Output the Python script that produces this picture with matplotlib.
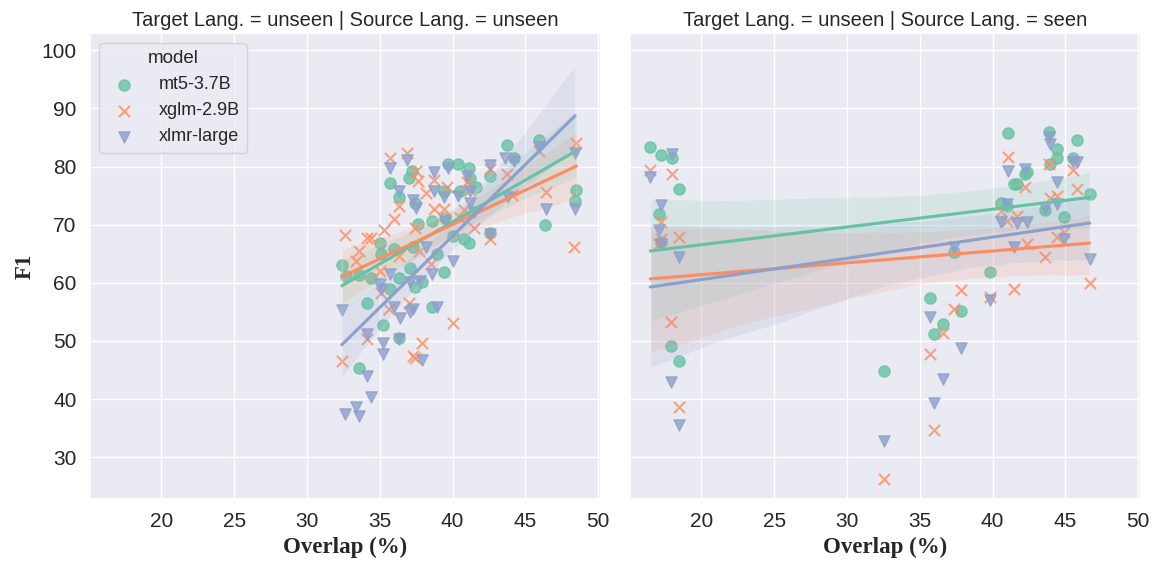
import matplotlib
matplotlib.use("Agg")
import matplotlib.pyplot as plt
import numpy as np
import pandas as pd
import seaborn as sns

models = ["mt5-3.7B", "xglm-2.9B", "xlmr-large"]

# Source Lang. = unseen panel
unseen_x_mt5 = [43.7, 45.9, 44.2, 39.7, 40.4, 41.1, 41.2, 41.6, 42.6, 37.2, 37.0, 35.7, 36.3,
                37.4, 39.4, 40.5, 48.5, 48.4, 46.35, 38.6, 37.6, 39.5, 40.0, 40.8, 41.1, 42.6,
                35.0, 35.1, 36.0, 37.3, 38.9, 34.4, 32.4, 32.7, 36.3, 37.1, 37.9, 37.4, 39.4,
                35.7, 34.1, 35.2, 36.3, 38.6, 33.6, 33.6]
unseen_f1_mt5 = [83.7, 84.6, 81.5, 80.5, 80.5, 79.8, 78.1, 76.4, 78.4, 79.3, 78.0, 77.2, 74.7,
                 73.8, 75.8, 75.8, 76.0, 74.0, 70.0, 70.7, 70.1, 71.2, 68.1, 67.5, 66.8, 68.5,
                 66.9, 64.9, 65.8, 66.1, 64.9, 60.9, 63.0, 61.2, 60.9, 62.6, 60.1, 59.2, 61.9,
                 58.9, 56.6, 52.8, 50.5, 55.8, 45.4, 61.3]

unseen_x_xglm = [32.6, 35.7, 36.9, 37.5, 37.6, 38.7, 38.2, 39.6, 41.0, 36.3, 36.0, 35.3, 37.4,
                 38.7, 39.4, 40.5, 34.1, 34.4, 33.6, 33.4, 32.4, 35.1, 35.6, 37.0, 34.1, 37.9,
                 37.3, 37.4, 40.0, 41.5, 42.6, 43.7, 44.1, 42.6, 45.9, 46.4, 48.5, 48.3, 37.7,
                 36.3, 35.0, 38.5, 40.8, 41.2]
unseen_f1_xglm = [68.2, 81.5, 82.3, 79.3, 77.5, 77.7, 75.5, 76.4, 77.3, 73.2, 70.9, 69.1, 69.5,
                  72.7, 72.7, 71.2, 67.7, 67.7, 65.4, 63.8, 46.6, 58.3, 55.5, 56.6, 50.3, 49.7,
                  47.4, 47.1, 53.0, 69.5, 67.5, 78.7, 75.1, 79.5, 82.6, 75.7, 84.0, 66.2, 65.5,
                  64.6, 62.0, 63.2, 72.5, 76.0]

unseen_x_xlmr = [35.7, 36.9, 38.7, 39.7, 36.3, 37.3, 37.5, 38.7, 39.4, 40.4, 41.0, 41.2, 41.2,
                 42.6, 43.6, 44.2, 48.4, 46.4, 48.4, 45.9, 43.8, 41.5, 39.5, 38.2, 35.7, 35.0,
                 35.1, 37.1, 37.75, 38.6, 40.0, 32.4, 36.0, 36.4, 37.3, 37.1, 38.9, 34.1, 35.2,
                 35.2, 36.3, 37.9, 34.1, 34.4, 33.4, 32.6, 33.6, 42.6]
unseen_f1_xlmr = [79.8, 81.1, 79.1, 79.8, 75.8, 74.2, 72.8, 75.8, 74.7, 75.0, 78.4, 75.8, 73.8,
                  80.3, 81.5, 81.0, 82.4, 72.7, 72.7, 83.3, 74.7, 72.1, 70.7, 66.1, 61.5, 59.8,
                  58.9, 60.1, 60.3, 61.5, 63.7, 55.3, 55.8, 54.0, 55.5, 54.9, 55.8, 51.2, 49.7,
                  47.7, 50.3, 46.7, 44.0, 40.3, 38.6, 37.4, 37.1, 68.4]

# Source Lang. = seen panel (same language pairs for all models)
seen_x = [16.5, 17.2, 18.0, 18.5, 17.1, 17.2, 17.9, 18.5,
          32.54, 35.72, 35.95, 36.59, 37.32, 37.85, 39.79, 40.6, 41.0, 41.05, 41.44, 41.7,
          42.2, 42.36, 43.6, 43.9, 43.96, 44.4, 44.45, 44.9, 45.5, 45.8, 46.66]
seen_f1_mt5 = [83.4, 82.0, 81.4, 76.2, 71.9, 67.0, 49.1, 46.6,
               44.9, 57.3, 51.1, 52.9, 65.3, 55.1, 61.8, 73.8, 73.2, 85.7, 77.0, 77.0,
               78.7, 79.0, 72.5, 86.0, 80.4, 83.1, 81.5, 71.3, 81.5, 84.5, 75.3]
seen_f1_xglm = [79.4, 70.4, 78.7, 67.8, 66.7, 67.5, 53.3, 38.6,
                26.3, 47.8, 34.6, 51.3, 55.5, 58.8, 57.5, 72.4, 70.7, 81.7, 59.0, 71.5,
                76.4, 66.7, 64.5, 80.4, 74.5, 75.0, 67.8, 68.8, 79.4, 76.1, 59.9]
seen_f1_xlmr = [78.2, 73.4, 82.1, 64.4, 69.0, 66.6, 43.0, 35.5,
                32.7, 54.1, 39.4, 43.4, 66.1, 48.7, 57.1, 70.4, 73.5, 79.3, 66.2, 70.2,
                79.5, 70.5, 72.8, 85.0, 83.8, 77.3, 73.5, 67.5, 80.7, 80.7, 64.1]


def make_frame(xs, ys, model, source):
    return pd.DataFrame({"Overlap": xs, "F1": ys, "model": model,
                         "Target Lang.": "unseen", "Source Lang.": source})


df = pd.concat([
    make_frame(unseen_x_mt5, unseen_f1_mt5, models[0], "unseen"),
    make_frame(unseen_x_xglm, unseen_f1_xglm, models[1], "unseen"),
    make_frame(unseen_x_xlmr, unseen_f1_xlmr, models[2], "unseen"),
    make_frame(seen_x, seen_f1_mt5, models[0], "seen"),
    make_frame(seen_x, seen_f1_xglm, models[1], "seen"),
    make_frame(seen_x, seen_f1_xlmr, models[2], "seen"),
], ignore_index=True)

sns.set_theme(style="darkgrid", font="Liberation Sans")

g = sns.lmplot(data=df, x="Overlap", y="F1", hue="model", hue_order=models,
               row="Target Lang.", col="Source Lang.", col_order=["unseen", "seen"],
               markers=["o", "x", "v"], palette="Set2", legend=False, seed=0,
               scatter_kws={"s": 65}, height=5, aspect=1)

fig = g.figure
fig.set_size_inches(11.53, 5.63)
fig.subplots_adjust(left=0.078, right=0.989, bottom=0.1137, top=0.9396, wspace=0.058)

g.set_titles(size=14.5)
g.set(xlim=(15.1, 50.14), ylim=(22.8, 102.8))

label_font = {"family": "Liberation Serif", "weight": "bold", "size": 16.5}
for ax in g.axes.flat:
    ax.set_xlabel("Overlap (%)", fontdict=label_font)
    ax.tick_params(labelsize=15)
g.axes[0, 0].set_ylabel("F1", fontdict=label_font)

leg = g.axes[0, 0].legend(title="model", loc="upper left", fontsize=13,
                          title_fontsize=13.5, handletextpad=0.9)

fig.savefig("out.png", dpi=100)
